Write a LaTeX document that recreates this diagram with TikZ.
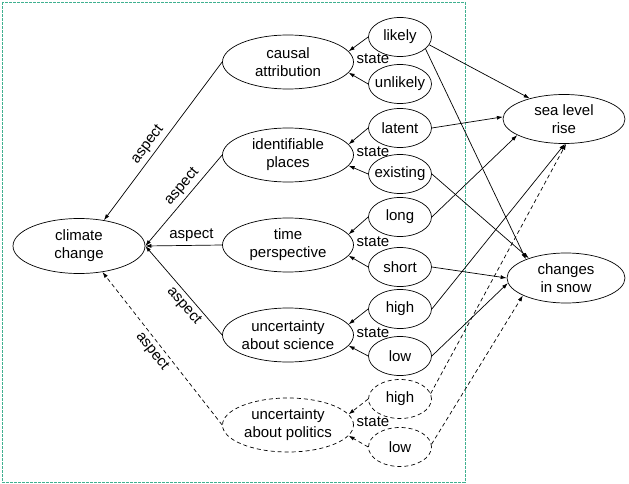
\documentclass[tikz,border=0pt]{standalone}
\usepackage{fontspec}
\setmainfont{Liberation Sans}
\usetikzlibrary{
  shapes.geometric,
  arrows.meta,
}
\definecolor{framegreen}{RGB}{64,176,144}
\tikzset{
  concept/.style={draw, ellipse, inner sep=0pt, minimum width=131pt, minimum height=54pt, align=center},
  stateval/.style={draw, ellipse, inner sep=0pt, minimum width=63pt, minimum height=39pt},
  guess/.style={dash pattern=on 4pt off 3pt},
  link/.style={-{Latex[length=6pt,width=4pt]}},
}

\begin{document}
\begin{tikzpicture}[x=1pt, y=-1pt, line width=0.7pt, font=\fontsize{15}{18}\selectfont]
\useasboundingbox (0,0) rectangle (629,484);
\draw[framegreen, dash pattern=on 3pt off 1pt] (2,2) rectangle (465,482);
\node[concept, minimum width=132pt, minimum height=55pt] (climate) at (79,246) {climate\\change};
\node[concept] (causal) at (288,62) {causal\\attribution};
\node[concept] (places) at (288,155) {identifiable\\places};
\node[concept] (time) at (288,245) {time\\perspective};
\node[concept] (science) at (288,335) {uncertainty\\about science};
\node[concept, guess] (politics) at (288,425) {uncertainty\\about politics};
\node[concept, minimum width=122pt, minimum height=49pt] (sea) at (564,119) {sea level\\rise};
\node[concept, minimum width=118pt, minimum height=50pt] (snow) at (566,278) {changes\\in snow};
\foreach \name/\txt/\y in {likely/likely/37, unlikely/unlikely/84, latent/latent/128, existing/existing/174, long/long/217, short/short/267, high/high/309, low/low/356} {
  \node[stateval] (\name) at (400,\y) {\makebox[0pt]{\txt}};
}
\node[stateval, guess] (phigh) at (400,399) {\makebox[0pt]{high}};
\node[stateval, guess] (plow) at (400,447) {\makebox[0pt]{low}};
\foreach \name/\y in {causalstate/59, placesstate/152, timestate/242, sciencestate/333, politicsstate/422} {
  \node (\name) at (373,\y) {state};
}

\draw[link] (causal.west) -- node[sloped, above, pos=0.56] {aspect} (climate.46);
\draw[link] (places.west) -- node[sloped, above, pos=0.42] {aspect} (climate.east);
\draw[link] (time.west) -- node[above, pos=0.4] {aspect} (climate.east);
\draw[link] (science.west) -- node[sloped, below, pos=0.4] {aspect} (climate.east);
\draw[link, guess] (politics.west) -- node[sloped, below, pos=0.52] {aspect} (climate.-48);

\draw[link] (likely.west) -- (causal.10);
\draw[link] (unlikely.west) -- (causal.-10);
\draw[link] (latent.west) -- (places.10);
\draw[link] (existing.west) -- (places.-10);
\draw[link] (long.west) -- (time.10);
\draw[link] (short.west) -- (time.-10);
\draw[link] (high.west) -- (science.10);
\draw[link] (low.west) -- (science.-10);
\draw[link, guess] (phigh.west) -- (politics.10);
\draw[link, guess] (plow.west) -- (politics.-10);

\draw[link] (likely.-15) -- (sea.149);
\draw[link] (likely.-25) -- (snow.155);
\draw[link] (latent.east) -- (sea.178);
\draw[link] (existing.east) -- (snow.152);
\draw[link] (long.east) -- (sea.-161);
\draw[link] (short.east) -- (snow.west);
\draw[link] (high.east) -- (sea.-88);
\draw[link] (low.east) -- (snow.185);
\draw[link, guess] (phigh.10) -- (sea.-85);
\draw[link, guess] (plow.5) -- (snow.-158);
\end{tikzpicture}
\end{document}
